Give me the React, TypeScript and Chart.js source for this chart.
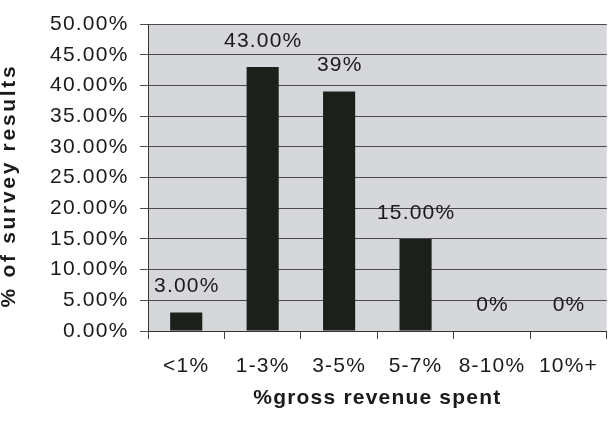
import React, { useEffect, useRef } from 'react';
import { Chart, registerables } from 'chart.js';

Chart.register(...registerables);

// ---- data ----
const categories: string[] = ['<1%', '1-3%', '3-5%', '5-7%', '8-10%', '10%+'];
const values: number[] = [3, 43, 39, 15, 0, 0];
const valueLabels: string[] = ['3.00%', '43.00%', '39%', '15.00%', '0%', '0%'];
const yMin = 0;
const yMax = 50;
const yStep = 5;
const xTitle = '%gross revenue spent';
const yTitle = '% of survey results';

const FONT = '"Liberation Sans", Arial, sans-serif';
const TEXT = '#1a1a1a';
const SIZE = 21;
const SPACING = '1.2px';

const spacingPlugin = {
  id: 'spacing',
  beforeLayout(chart: any) {
    chart.ctx.letterSpacing = SPACING;
  },
  beforeDraw(chart: any) {
    chart.ctx.letterSpacing = SPACING;
  },
};

const plotBg = {
  id: 'plotBg',
  beforeDraw(chart: any) {
    const { ctx, chartArea } = chart;
    ctx.save();
    ctx.fillStyle = '#d6d7db';
    ctx.fillRect(chartArea.left, chartArea.top, chartArea.right - chartArea.left, chartArea.bottom - chartArea.top);
    ctx.restore();
  },
};

const dataLabels = {
  id: 'dataLabels',
  afterDatasetsDraw(chart: any) {
    const ctx = chart.ctx;
    const meta = chart.getDatasetMeta(0);
    ctx.save();
    ctx.font = `${SIZE}px ${FONT}`;
    ctx.fillStyle = TEXT;
    ctx.textAlign = 'center';
    ctx.textBaseline = 'middle';
    ctx.letterSpacing = SPACING;
    meta.data.forEach((el: any, i: number) => {
      ctx.fillText(valueLabels[i], el.x + 0.6, el.y - 26);
    });
    ctx.restore();
  },
};

export default function App() {
  const ref = useRef<HTMLCanvasElement>(null);

  useEffect(() => {
    if (!ref.current) return;
    const chart = new Chart(ref.current, {
      type: 'bar',
      data: {
        labels: categories,
        datasets: [
          {
            data: values,
            backgroundColor: '#1b201b',
            borderWidth: 0,
            categoryPercentage: 1,
            barPercentage: 0.42,
          },
        ],
      },
      options: {
        animation: false,
        responsive: true,
        maintainAspectRatio: false,
        layout: { padding: { top: 21, right: -9, left: 0, bottom: 0 } },
        plugins: {
          legend: { display: false },
          tooltip: { enabled: false },
        },
        scales: {
          x: {
            grid: {
              display: true,
              drawOnChartArea: false,
              drawTicks: true,
              tickLength: 8,
              color: '#444444',
              offset: true,
            },
            border: { display: true, color: '#333333', width: 1 },
            ticks: {
              color: TEXT,
              font: { family: FONT, size: SIZE },
              padding: 15,
              maxRotation: 0,
              autoSkip: false,
            },
            title: {
              display: true,
              text: xTitle,
              color: TEXT,
              font: { family: FONT, size: SIZE, weight: 'bold', lineHeight: 1 },
              padding: { top: 0, bottom: 15.5 },
            },
            afterFit(scale: any) {
              scale.height = 93;
            },
          },
          y: {
            min: yMin,
            max: yMax,
            grid: {
              display: true,
              drawOnChartArea: true,
              drawTicks: true,
              tickLength: 8,
              color: '#4a4a4a',
            },
            border: { display: true, color: '#333333', width: 1 },
            ticks: {
              stepSize: yStep,
              color: TEXT,
              font: { family: FONT, size: SIZE },
              padding: 11.5,
              callback: (v: any) => Number(v).toFixed(2) + '%',
            },
            title: {
              display: true,
              text: yTitle,
              color: TEXT,
              font: { family: FONT, size: SIZE, weight: 'bold', lineHeight: 1 },
              padding: 0,
            },
            afterFit(scale: any) {
              scale.width = 148;
              if (!scale._titlePatched) {
                const orig = scale.drawTitle.bind(scale);
                scale.drawTitle = () => {
                  const c = scale.ctx;
                  c.save();
                  c.letterSpacing = '2.7px';
                  c.translate(-1, 8);
                  orig();
                  c.restore();
                };
                scale._titlePatched = true;
              }
            },
          },
        },
      },
      plugins: [spacingPlugin, plotBg, dataLabels],
    } as any);
    return () => chart.destroy();
  }, []);

  return (
    <div style={{ position: 'fixed', left: 0, top: 0, width: 613, height: 424, background: '#ffffff' }}>
      <canvas ref={ref} />
    </div>
  );
}
